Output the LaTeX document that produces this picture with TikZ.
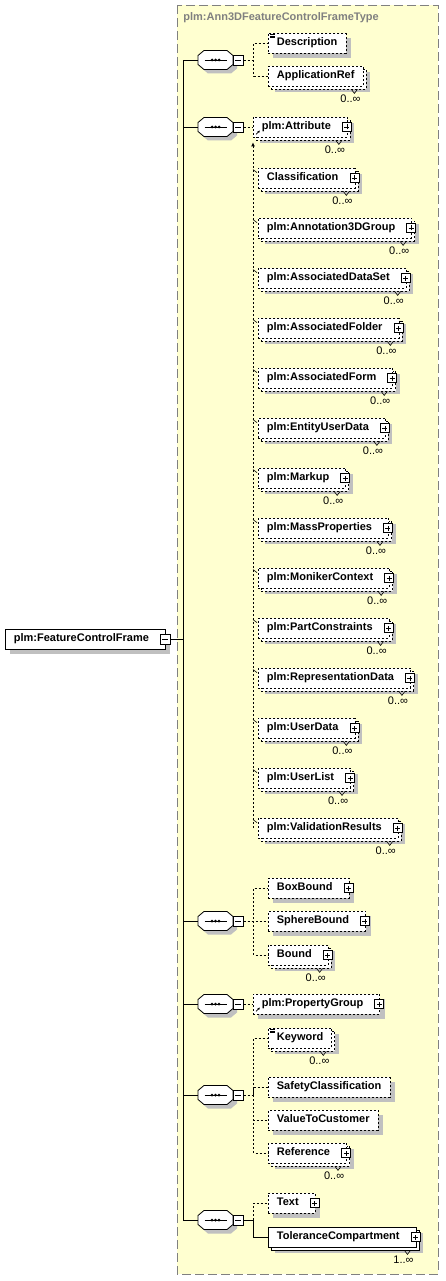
\documentclass[tikz,border=0pt]{standalone}
\usepackage{fontspec}
\setmainfont{Liberation Sans}
\usepackage{xcolor}
\usepackage{tikz}
\usetikzlibrary{positioning,shadows,arrows.meta}

\definecolor{schemabg}{RGB}{255,255,208}
\definecolor{schemaedge}{RGB}{128,128,128}
\definecolor{shadowgray}{RGB}{192,192,192}
\newcommand{\elfont}{\bfseries\fontsize{11}{13}\selectfont}
\newcommand{\occfont}{\fontsize{11}{13}\selectfont}

\begin{document}
\begin{tikzpicture}[x=1pt, y=-1pt, line width=0.8pt,
    elem/.style={draw, fill=white, anchor=west, font=\elfont, text height=8pt, text depth=2.5pt, inner xsep=8.5pt, inner ysep=4.75pt},
    optel/.style={dash pattern=on 2pt off 2pt},
    optline/.style={dash pattern=on 2pt off 2pt},
    onceel/.style={drop shadow={shadow xshift=5pt, shadow yshift=-5pt, fill=shadowgray, draw=none, opacity=1}},
    manyel/.style={drop shadow={shadow xshift=7pt, shadow yshift=-6pt, fill=shadowgray, draw=none, opacity=1},
        copy shadow={shadow xshift=3pt, shadow yshift=-3pt, fill=white, draw=black, line width=0.8pt, #1}},
    manyel/.default={dash pattern=on 2pt off 2pt},
    withkids/.style={execute at end node={\hspace{8pt}}},
    seqbox/.style={minimum width=35pt, minimum height=19pt, inner sep=0pt},
    plusbox/.style={draw, solid, fill=white, minimum size=9pt, inner sep=0pt, line width=0.6pt,
        path picture={\draw[line width=0.6pt] ([xshift=2pt]path picture bounding box.west) -- ([xshift=-2pt]path picture bounding box.east)
            ([yshift=2pt]path picture bounding box.south) -- ([yshift=-2pt]path picture bounding box.north);}},
    minusbox/.style={draw, solid, fill=white, minimum size=10pt, inner sep=0pt, line width=0.6pt,
        path picture={\draw[line width=0.6pt] ([xshift=2pt]path picture bounding box.west) -- ([xshift=-2pt]path picture bounding box.east);}},
    occ/.style={font=\occfont, anchor=north east, inner sep=0.5pt}]
    \useasboundingbox (0,0) rectangle (446,1281);

    % complex type area
    \fill[schemabg] (177,5) rectangle (438,1274);
    \draw[schemaedge, dash pattern=on 9pt off 4pt] (177,5) rectangle (438,1274);
    \node[font=\elfont, text=schemaedge, anchor=west, inner sep=0pt] (typename) at (183,18) {plm:Ann3DFeatureControlFrameType};

    % root element
    \node[elem, onceel, withkids] (root) at (5,639) {plm:FeatureControlFrame};
    \node[minusbox] (rootmin) at ([xshift=-1pt]root.east) {};
    \coordinate (trunk) at (183,639);

    % sequences
    \node[seqbox] (seq1) at (215.5,60) {};
    \node[seqbox] (seq2) at (215.5,127) {};
    \node[seqbox] (seq3) at (215.5,921) {};
    \node[seqbox] (seq4) at (215.5,1004) {};
    \node[seqbox] (seq5) at (215.5,1095) {};
    \node[seqbox] (seq6) at (215.5,1220) {};
    \foreach \s in {seq1,seq2,seq3,seq4,seq5,seq6} {
        \fill[shadowgray] ([xshift=4pt,yshift=-4pt]\s.center) ++(-11.5,-9.5) -- ++(23,0) -- ++(6,5) -- ++(0,9) -- ++(-6,5) -- ++(-23,0) -- ++(-6,-5) -- ++(0,-9) -- cycle;
        \filldraw[fill=white] (\s.center) ++(-11.5,-9.5) -- ++(23,0) -- ++(6,5) -- ++(0,9) -- ++(-6,5) -- ++(-23,0) -- ++(-6,-5) -- ++(0,-9) -- cycle;
        \node[minusbox] (\s-min) at ([xshift=5pt]\s.east) {};
        \draw ([xshift=-11pt]\s.center) -- ([xshift=11pt]\s.center);
        \fill ([xshift=-3.5pt]\s.center) circle (1.5pt) (\s.center) circle (1.5pt) ([xshift=3.5pt]\s.center) circle (1.5pt);
    }

    % first sequence
    \node[elem, optel, onceel] (desc) at (268,43) {Description};
    \node[elem, optel, manyel] (appref) at (268,76) {ApplicationRef};

    % attribute substitution group
    \node[elem, optel, manyel, withkids] (attr) at (253,127) {plm:Attribute};
    \node[elem, optel, manyel, withkids] (cls) at (258,178) {Classification};
    \node[elem, optel, manyel, withkids] (a3d) at (258,228) {plm:Annotation3DGroup};
    \node[elem, optel, manyel, withkids] (ads) at (258,278) {plm:AssociatedDataSet};
    \node[elem, optel, manyel, withkids] (afold) at (258,328) {plm:AssociatedFolder};
    \node[elem, optel, manyel, withkids] (aform) at (258,378) {plm:AssociatedForm};
    \node[elem, optel, manyel, withkids] (eud) at (258,428) {plm:EntityUserData};
    \node[elem, optel, manyel, withkids] (markup) at (258,478) {plm:Markup};
    \node[elem, optel, manyel, withkids] (mass) at (258,528) {plm:MassProperties};
    \node[elem, optel, manyel, withkids] (moniker) at (258,578) {plm:MonikerContext};
    \node[elem, optel, manyel, withkids] (partc) at (258,628) {plm:PartConstraints};
    \node[elem, optel, manyel, withkids] (repd) at (258,678) {plm:RepresentationData};
    \node[elem, optel, manyel, withkids] (udata) at (258,728) {plm:UserData};
    \node[elem, optel, manyel, withkids] (ulist) at (258,778) {plm:UserList};
    \node[elem, optel, manyel, withkids] (valres) at (258,828) {plm:ValidationResults};

    % bounds
    \node[elem, optel, onceel, withkids] (boxb) at (268,888) {BoxBound};
    \node[elem, optel, onceel, withkids] (sphb) at (268,921) {SphereBound};
    \node[elem, optel, manyel, withkids] (bnd) at (268,955) {Bound};

    \node[elem, optel, onceel, withkids] (propg) at (253,1004) {plm:PropertyGroup};

    \node[elem, optel, manyel] (kw) at (268,1038) {Keyword};
    \node[elem, optel, onceel] (safety) at (268,1087) {SafetyClassification};
    \node[elem, optel, onceel] (vtc) at (268,1120) {ValueToCustomer};
    \node[elem, optel, manyel, withkids] (refer) at (268,1153) {Reference};

    \node[elem, optel, onceel, withkids] (txt) at (268,1203) {Text};
    \node[elem, manyel=solid, withkids] (tolc) at (268,1237) {ToleranceCompartment};

    % expand icons
    \foreach \e in {attr,cls,a3d,ads,afold,aform,eud,markup,mass,moniker,partc,repd,udata,ulist,valres,boxb,sphb,bnd,propg,refer,txt,tolc}
        \node[plusbox] (\e-plus) at ([xshift=-1pt]\e.east) {};

    % occurrences
    \foreach \e in {appref,attr,cls,a3d,ads,afold,aform,eud,markup,mass,moniker,partc,repd,udata,ulist,valres,bnd,kw,refer} {
        \draw[line width=0.6pt] ([xshift=-12pt,yshift=-3pt]\e.south east) -- ++(3,4) -- ++(3,-4);
        \node[occ] (\e-occ) at ([xshift=-2pt,yshift=-8pt]\e.south east) {0..∞};
    }
    \draw[line width=0.6pt] ([xshift=-12pt,yshift=-3pt]tolc.south east) -- ++(3,4) -- ++(3,-4);
    \node[occ] (tolc-occ) at ([xshift=-2pt,yshift=-8pt]tolc.south east) {1..∞};

    % small icons
    \foreach \e in {desc,kw}
        \foreach \k in {2,3.5,5}
            \draw[line width=0.5pt] ([xshift=2pt,yshift=-\k pt]\e.north west) -- ++(5,0);
    \foreach \e in {attr,propg}
        \draw[line width=0.6pt, -{Latex[length=2.5pt,width=2.5pt]}] ([xshift=3pt,yshift=3pt]\e.south west) -- ++(4,-4);
    \foreach \e in {cls,a3d,ads,afold,aform,eud,markup,mass,moniker,partc,repd,udata,ulist,valres}
        \draw[line width=0.6pt] ([xshift=-5pt,yshift=-2pt]\e.north west) -- ++(4,3);
    \draw[optline, -{Latex[length=4pt,width=4pt]}] (valres.west -| attr.west) -- ([yshift=-5pt]attr.south west);

    % connectors
    \draw (rootmin.east) -- (trunk);
    \draw (seq1.west) -- (seq1.west -| trunk) -- (seq6.west -| trunk) -- (seq6.west);
    \foreach \s in {seq2,seq3,seq4,seq5}
        \draw (\s.west) -- (\s.west -| trunk);
    \draw[optline] (seq1-min.east) -- ++(10,0) |- (desc.west);
    \draw[optline] (seq1-min.east) ++(10,0) |- (appref.west);
    \draw[optline] (seq2-min.east) -- (attr.west);
    \draw[optline] (seq3-min.east) -- ++(10,0) |- (boxb.west);
    \draw[optline] (seq3-min.east) -- (sphb.west);
    \draw[optline] (seq3-min.east) ++(10,0) |- (bnd.west);
    \draw[optline] (seq4-min.east) -- (propg.west);
    \draw[optline] (seq5-min.east) -- ++(10,0) |- (kw.west);
    \draw[optline] (seq5-min.east) ++(10,0) |- (safety.west);
    \draw[optline] (seq5-min.east) ++(10,0) |- (vtc.west);
    \draw[optline] (seq5-min.east) ++(10,0) |- (refer.west);
    \draw (seq6-min.east) -- ++(10,0) |- (tolc.west);
    \draw[optline] (seq6-min.east) ++(10,0) |- (txt.west);
\end{tikzpicture}
\end{document}
